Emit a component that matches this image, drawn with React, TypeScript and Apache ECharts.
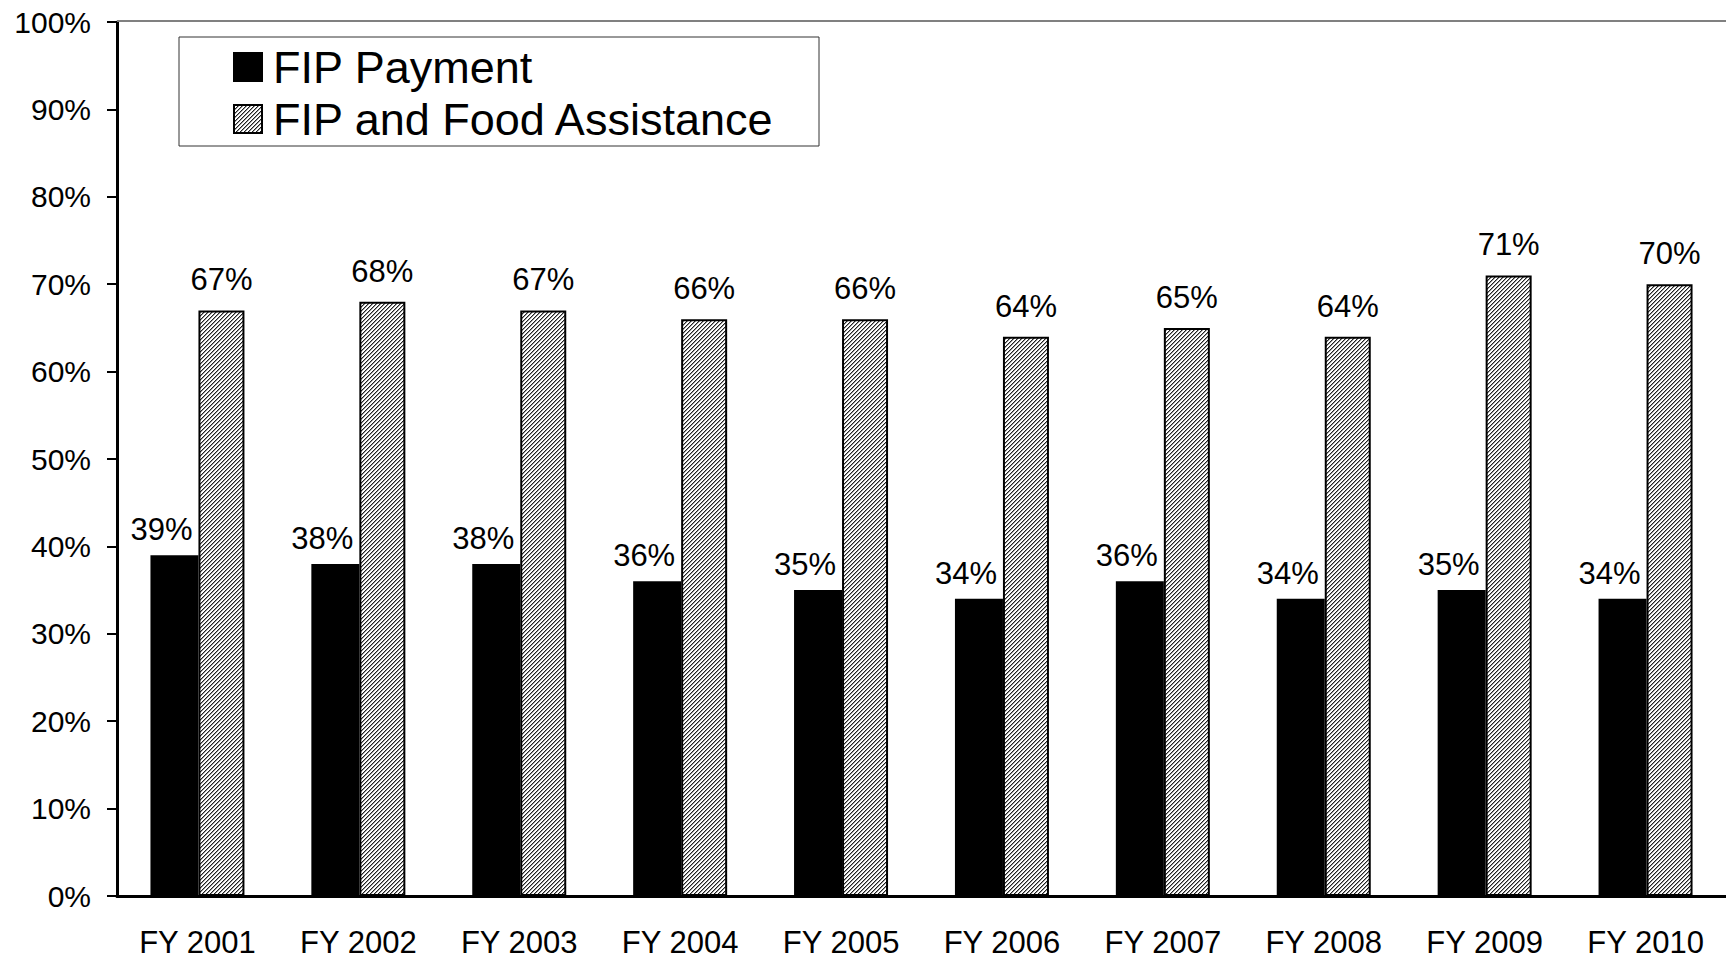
import React, { useEffect, useRef } from "react";
import * as echarts from "echarts";

const categories = ["FY 2001", "FY 2002", "FY 2003", "FY 2004", "FY 2005", "FY 2006", "FY 2007", "FY 2008", "FY 2009", "FY 2010"];
const fipPayment = [39, 38, 38, 36, 35, 34, 36, 34, 35, 34];
const fipFood = [67, 68, 67, 66, 66, 64, 65, 64, 71, 70];
const seriesNames = ["FIP Payment", "FIP and Food Assistance"];
const yTicks = [0, 10, 20, 30, 40, 50, 60, 70, 80, 90, 100];

const FONT = 'Arial, "Liberation Sans", sans-serif';

function makeHatch(): HTMLCanvasElement {
  const c = document.createElement("canvas");
  c.width = 4;
  c.height = 4;
  const ctx = c.getContext("2d")!;
  ctx.fillStyle = "#ffffff";
  ctx.fillRect(0, 0, 4, 4);
  for (let i = 0; i < 4; i++) {
    ctx.fillStyle = "#222222";
    ctx.fillRect(i, 3 - i, 1, 1);
    ctx.fillStyle = "#9a9a9a";
    ctx.fillRect(i, (4 - i) % 4, 1, 1);
  }
  return c;
}

export default function App() {
  const ref = useRef<HTMLDivElement>(null);
  useEffect(() => {
    if (!ref.current) return;
    const chart = echarts.init(ref.current, undefined, { renderer: "svg" });
    const hatch = { image: makeHatch(), repeat: "repeat", imageWidth: 4, imageHeight: 4 } as any;
    const left = 117;
    const top = 22;
    const bottom = 63;
    chart.setOption({
      animation: false,
      backgroundColor: "#ffffff",
      grid: { left, right: -4, top, bottom, containLabel: false },
      xAxis: {
        type: "category",
        data: categories,
        axisLine: { show: true, lineStyle: { color: "#000", width: 3 } },
        axisTick: { show: false },
        axisLabel: { color: "#000", fontSize: 31, lineHeight: 31, fontFamily: FONT, margin: 31 },
      },
      yAxis: {
        type: "value",
        min: yTicks[0],
        max: yTicks[yTicks.length - 1],
        interval: 10,
        axisLine: { show: true, lineStyle: { color: "#000", width: 3 } },
        axisTick: { show: true, inside: false, length: 10, lineStyle: { color: "#000", width: 2 } },
        splitLine: { show: false },
        axisLabel: { color: "#000", fontSize: 30, fontFamily: FONT, margin: 26, formatter: "{value}%" },
      },
      series: [
        {
          name: seriesNames[0],
          type: "bar",
          data: fipPayment,
          barWidth: 48,
          barGap: "0%",
          itemStyle: { color: "#000" },
          label: {
            show: true,
            position: "top",
            distance: 10,
            offset: [-13, 0],
            formatter: "{c}%",
            color: "#000",
            fontSize: 31,
            fontFamily: FONT,
          },
        },
        {
          name: seriesNames[1],
          type: "bar",
          data: fipFood,
          barWidth: 46,
          barGap: "0%",
          itemStyle: { color: hatch, borderColor: "#000", borderWidth: 2 },
          label: {
            show: true,
            position: "top",
            distance: 15,
            formatter: "{c}%",
            color: "#000",
            fontSize: 31,
            fontFamily: FONT,
          },
        },
      ],
      graphic: [
        {
          type: "line",
          shape: { x1: left, y1: 21, x2: 1726, y2: 21 },
          style: { stroke: "#808080", lineWidth: 2 },
          z: 10,
        },
        {
          type: "rect",
          shape: { x: 179, y: 37, width: 640, height: 109 },
          style: { fill: "#fff", stroke: "#333", lineWidth: 1 },
          z: 20,
        },
        {
          type: "rect",
          shape: { x: 233, y: 52, width: 30, height: 30 },
          style: { fill: "#000" },
          z: 21,
        },
        {
          type: "rect",
          shape: { x: 234, y: 105, width: 28, height: 28 },
          style: { fill: hatch, stroke: "#000", lineWidth: 2 },
          z: 21,
        },
        {
          type: "text",
          x: 273,
          y: 67,
          style: { text: seriesNames[0], fill: "#000", font: `45px ${FONT}`, textVerticalAlign: "middle", verticalAlign: "middle" },
          z: 21,
        },
        {
          type: "text",
          x: 273,
          y: 119,
          style: { text: seriesNames[1], fill: "#000", font: `45px ${FONT}`, textVerticalAlign: "middle", verticalAlign: "middle" },
          z: 21,
        },
      ],
    });
    return () => chart.dispose();
  }, []);
  return (
    <div
      ref={ref}
      style={{ position: "absolute", left: 0, top: 0, width: 1726, height: 959, background: "#fff" }}
    />
  );
}
